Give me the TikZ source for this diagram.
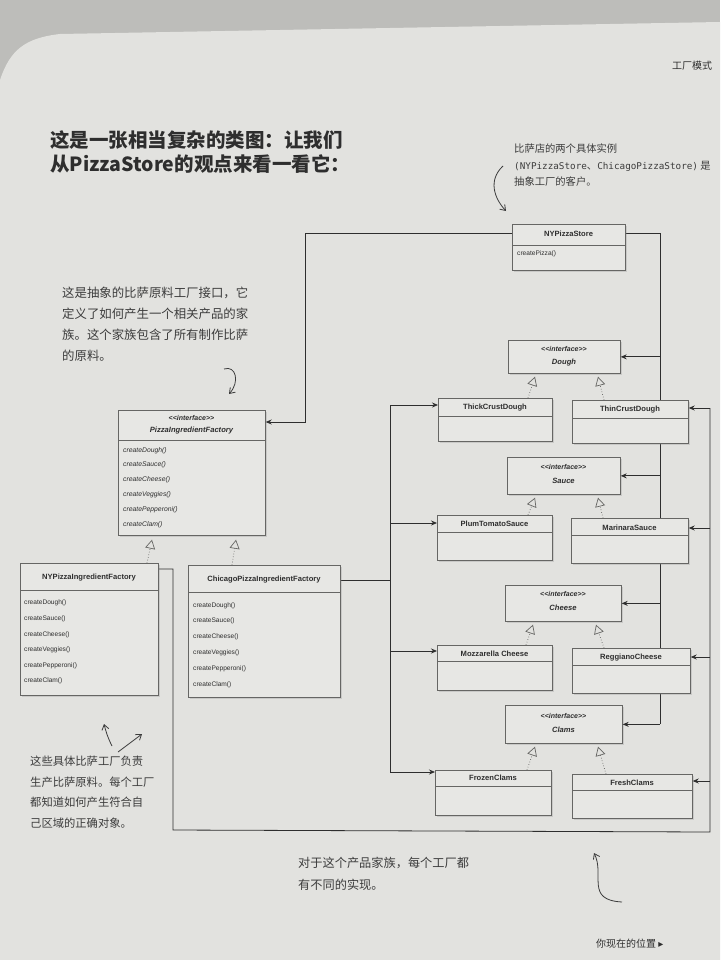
\documentclass[tikz,border=0pt]{standalone}
\usepackage{fontspec}
\setmainfont{Liberation Sans}
\newfontfamily\cjk{Noto Sans CJK SC}
\newfontfamily\dejavu{DejaVu Sans}
\newfontfamily\handmono{DejaVu Sans Mono}
\usetikzlibrary{arrows.meta,shadows,calc}
\pgfdeclarelayer{pagelayer}
\pgfdeclarelayer{buslayer}
\pgfsetlayers{pagelayer,buslayer,main}
\definecolor{pagebg}{HTML}{E2E2DF}
\definecolor{outerbg}{HTML}{BDBDBA}
\definecolor{boxfill}{HTML}{E7E7E4}
\definecolor{boxline}{HTML}{666664}
\definecolor{ink}{HTML}{2E2E2E}
\definecolor{hand}{HTML}{3C3C3C}
\newcommand{\iface}{{<}{<}interface{>}{>}}
\tikzset{
  cls/.style={draw=boxline, fill=boxfill, line width=0.7pt, rectangle, inner sep=0pt, anchor=north west,
     drop shadow={opacity=0.25, shadow xshift=1.2pt, shadow yshift=-1.2pt}},
  divider/.style={draw=boxline, line width=0.6pt},
  ttl/.style={font=\fontsize{7.6}{9}\selectfont\bfseries, text=ink, inner sep=0pt},
  ittl/.style={font=\fontsize{7.6}{9}\selectfont\bfseries\itshape, text=ink, inner sep=0pt},
  meth/.style={font=\fontsize{6.6}{8}\selectfont, text=ink, inner sep=0pt, anchor=west},
  imeth/.style={font=\fontsize{6.8}{8}\selectfont\itshape, text=ink, inner sep=0pt, anchor=west},
  bus/.style={draw=ink, line width=0.8pt},
  assoc/.style={draw=ink, line width=0.8pt, -{Stealth[length=6pt,width=5pt]}},
  realize/.style={draw=boxline, line width=0.7pt, dotted, -{Triangle[open, length=9pt, width=10pt, fill=pagebg]}},
  handarrow/.style={draw=hand, line width=0.8pt, -{Straight Barb[length=5pt,width=7pt]}},
  note/.style={text=hand, align=left, anchor=north west, inner sep=0pt},
}
\begin{document}
\begin{tikzpicture}[x=1pt,y=-1pt]
\useasboundingbox (0,0) rectangle (720,960);
% background
\begin{pgfonlayer}{pagelayer}
\fill[outerbg] (0,0) rectangle (720,960);
\fill[pagebg] (0,80) .. controls (10,50) and (25,38) .. (60,34) -- (720,22) -- (720,960) -- (0,960) -- cycle;
\end{pgfonlayer}

% header and footer
\node[font=\cjk\fontsize{10}{12}\selectfont, text=ink, anchor=west, inner sep=0pt] (hdr) at (672,66) {工厂模式};
\node[font=\cjk\fontsize{10}{12}\selectfont, text=ink, anchor=west, inner sep=0pt] (ftr) at (596,944) {你现在的位置 {\dejavu ▸}};

% title
\node[font=\cjk\bfseries\fontsize{19.5}{24}\selectfont, text=ink, align=left, anchor=north west, inner sep=0pt] (title) at (50,130)
  {这是一张相当复杂的类图：让我们\\从PizzaStore的观点来看一看它：};

% annotations
\node[note, font=\cjk\fontsize{10.3}{16.5}\selectfont] (noteR) at (514,144)
  {比萨店的两个具体实例\\{\handmono\fontsize{9.3}{16.5}\selectfont (NYPizzaStore}、{\handmono\fontsize{9.3}{16.5}\selectfont ChicagoPizzaStore)} 是\\抽象工厂的客户。};
\node[note, font=\cjk\fontsize{12.4}{21}\selectfont] (noteL) at (62,287)
  {这是抽象的比萨原料工厂接口，它\\定义了如何产生一个相关产品的家\\族。这个家族包含了所有制作比萨\\的原料。};
\node[note, font=\cjk\fontsize{11.3}{20.5}\selectfont] (noteBL) at (30,756)
  {这些具体比萨工厂负责\\生产比萨原料。每个工厂\\都知道如何产生符合自\\己区域的正确对象。};
\node[note, font=\cjk\fontsize{12.2}{22}\selectfont] (noteB) at (298,857)
  {对于这个产品家族，每个工厂都\\有不同的实现。};

% hand-drawn arrows
\draw[handarrow] (503,166) .. controls (488,180) and (494,198) .. (506,211);
\draw[handarrow] (224,369) .. controls (236,365) and (240,382) .. (229,394);
\draw[handarrow] (112,746) .. controls (108,738) and (106,732) .. (104,724);
\draw[handarrow] (118,752) -- (142,734);
\draw[handarrow] (622,902) .. controls (585,900) and (605,875) .. (594,853);

% bus coordinates
\coordinate (busS) at (305,0);
\coordinate (busR) at (660,0);
\coordinate (busC) at (390,0);
\coordinate (busN) at (173,0);
\coordinate (busE) at (710,0);
\coordinate (botL) at (173,830);
\coordinate (botR) at (710,832);

% ---------- boxes ----------
\node[cls, minimum width=113pt, minimum height=46pt] (store) at (512,224) {};
\node[cls, minimum width=147pt, minimum height=125pt] (pif) at (118,410) {};
\node[cls, minimum width=138pt, minimum height=132pt] (nyf) at (20,563) {};
\node[cls, minimum width=152pt, minimum height=132pt] (chf) at (188,565) {};

\node[cls, minimum width=112pt, minimum height=33pt] (dough) at (508,340) {};
\node[cls, minimum width=114pt, minimum height=43pt] (thick) at (438,398) {};
\node[cls, minimum width=116pt, minimum height=43pt] (thin) at (572,400) {};

\node[cls, minimum width=113pt, minimum height=37pt] (sauce) at (507,457) {};
\node[cls, minimum width=115pt, minimum height=45pt] (plum) at (437,515) {};
\node[cls, minimum width=117pt, minimum height=45pt] (marinara) at (571,518) {};

\node[cls, minimum width=116pt, minimum height=36pt] (cheese) at (505,585) {};
\node[cls, minimum width=115pt, minimum height=45pt] (mozz) at (437,645) {};
\node[cls, minimum width=118pt, minimum height=45pt] (regg) at (572,648) {};

\node[cls, minimum width=117pt, minimum height=38pt] (clams) at (505,705) {};
\node[cls, minimum width=116pt, minimum height=45pt] (frozen) at (435,770) {};
\node[cls, minimum width=120pt, minimum height=44pt] (fresh) at (572,774) {};

% ---------- bus lines (behind the boxes) ----------
\begin{pgfonlayer}{buslayer}
\draw[bus] ([yshift=-9pt]store.north east) -| (clams.east -| busR);
\draw[bus] ([yshift=-15pt]chf.north east) -- ([yshift=-15pt]chf.north east -| busC);
\draw[bus] ([yshift=-7pt]thick.north west -| busC) -- ([yshift=-2pt]frozen.north west -| busC);
\draw[bus] ([yshift=-6pt]nyf.north east) -- ([yshift=-6pt]nyf.north east -| busN) -- (botL) -- (botR) -- ([yshift=-8pt]thin.north east -| busE);
\end{pgfonlayer}

% dividers
\foreach \n/\d in {store/21, pif/30, nyf/27, chf/27, thick/18, thin/18, plum/17, marinara/17, mozz/16, regg/17, frozen/16, fresh/16}
  \draw[divider] ([yshift=-\d pt]\n.north west) -- ([yshift=-\d pt]\n.north east);

% box texts
\node[ttl] (t-store) at (568.5,234) {NYPizzaStore};
\node[meth] (m-store) at (517,254) {createPizza()};

\node[ittl, font=\fontsize{7}{9}\selectfont\bfseries\itshape] (s-pif) at (191.5,418) {\iface};
\node[ittl] (t-pif) at (191.5,431) {PizzaIngredientFactory};
\foreach \m [count=\i] in {createDough(), createSauce(), createCheese(), createVeggies(), createPepperoni(), createClam()}
  \node[imeth] at (123,435.5+14.8*\i) {\m};

\node[ttl] (t-nyf) at (89,578) {NYPizzaIngredientFactory};
\foreach \m [count=\i] in {createDough(), createSauce(), createCheese(), createVeggies(), createPepperoni(), createClam()}
  \node[meth] at (24,587.5+15.6*\i) {\m};

\node[ttl] (t-chf) at (264,580) {ChicagoPizzaIngredientFactory};
\foreach \m [count=\i] in {createDough(), createSauce(), createCheese(), createVeggies(), createPepperoni(), createClam()}
  \node[meth] at (193,589.5+15.8*\i) {\m};

\foreach \n/\cx/\ya/\nm in {dough/564/349/Dough, sauce/563.5/467/Sauce, cheese/563/594/Cheese, clams/563.5/716/Clams}{
  \node[ittl, font=\fontsize{7}{9}\selectfont\bfseries\itshape] at (\cx,\ya) {\iface};
  \node[ittl] at (\cx,\ya+13.5) {\nm};
}

\node[ttl] (t-thick) at (495,408) {ThickCrustDough};
\node[ttl] (t-thin) at (630,410) {ThinCrustDough};
\node[ttl] (t-plum) at (494.5,524) {PlumTomatoSauce};
\node[ttl] (t-mar) at (629.5,528) {MarinaraSauce};
\node[ttl] (t-mozz) at (494.5,654) {Mozzarella Cheese};
\node[ttl] (t-regg) at (631,658) {ReggianoCheese};
\node[ttl] (t-frozen) at (493,778) {FrozenClams};
\node[ttl] (t-fresh) at (632,783) {FreshClams};

% realization arrows
\draw[realize] ([xshift=127pt]nyf.north west) -- ([xshift=34pt,yshift=-4pt]pif.south west);
\draw[realize] ([xshift=44pt]chf.north west) -- ([xshift=118pt,yshift=-4pt]pif.south west);
\draw[realize] ([xshift=90pt]thick.north west) -- ([xshift=27pt,yshift=-3pt]dough.south west);
\draw[realize] ([xshift=32pt]thin.north west) -- ([xshift=90pt,yshift=-3pt]dough.south west);
\draw[realize] ([xshift=91pt]plum.north west) -- ([xshift=28pt,yshift=-3pt]sauce.south west);
\draw[realize] ([xshift=32pt]marinara.north west) -- ([xshift=91pt,yshift=-3pt]sauce.south west);
\draw[realize] ([xshift=89pt]mozz.north west) -- ([xshift=28pt,yshift=-3pt]cheese.south west);
\draw[realize] ([xshift=32pt]regg.north west) -- ([xshift=91pt,yshift=-3pt]cheese.south west);
\draw[realize] ([xshift=92pt]frozen.north west) -- ([xshift=30pt,yshift=-3pt]clams.south west);
\draw[realize] ([xshift=34pt]fresh.north west) -- ([xshift=93pt,yshift=-3pt]clams.south west);

% association arrows into boxes
\draw[assoc] ([yshift=-9pt]store.north west) -- ([yshift=-9pt]store.north west -| busS) -- ([yshift=-12pt]pif.north east -| busS) -- ([yshift=-12pt]pif.north east);
\draw[assoc] (dough.east -| busR) -- (dough.east);
\draw[assoc] (sauce.east -| busR) -- (sauce.east);
\draw[assoc] (cheese.east -| busR) -- (cheese.east);
\draw[assoc] (clams.east -| busR) -- (clams.east);

\draw[assoc] ([yshift=-7pt]thick.north west -| busC) -- ([yshift=-7pt]thick.north west);
\draw[assoc] ([yshift=-8pt]plum.north west -| busC) -- ([yshift=-8pt]plum.north west);
\draw[assoc] ([yshift=-6pt]mozz.north west -| busC) -- ([yshift=-6pt]mozz.north west);
\draw[assoc] ([yshift=-2pt]frozen.north west -| busC) -- ([yshift=-2pt]frozen.north west);

\draw[assoc] ([yshift=-8pt]thin.north east -| busE) -- ([yshift=-8pt]thin.north east);
\draw[assoc] ([yshift=-10pt]marinara.north east -| busE) -- ([yshift=-10pt]marinara.north east);
\draw[assoc] ([yshift=-9pt]regg.north east -| busE) -- ([yshift=-9pt]regg.north east);
\draw[assoc] ([yshift=-7pt]fresh.north east -| busE) -- ([yshift=-7pt]fresh.north east);

\end{tikzpicture}
\end{document}
